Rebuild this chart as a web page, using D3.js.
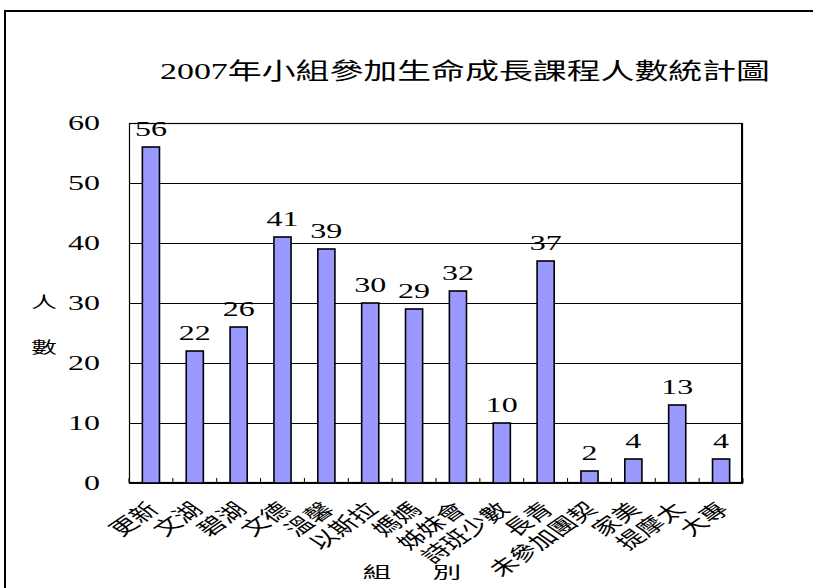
<!DOCTYPE html>
<html>
<head>
<meta charset="utf-8">
<script src="https://cdn.jsdelivr.net/npm/d3@7"></script>
<style>
  body { margin: 0; background: #fff; }
  svg { display: block; }
</style>
</head>
<body>
<svg id="chart" width="813" height="588"></svg>
<script>
// data
const categories = ["更新", "文湖", "碧湖", "文德", "溫馨", "以斯拉", "媽媽", "姊妹會",
  "詩班少數", "長青", "未參加團契", "家美", "提摩太", "大專"];
const values = [56, 22, 26, 41, 39, 30, 29, 32, 10, 37, 2, 4, 13, 4];
const yTicks = [0, 10, 20, 30, 40, 50, 60];
const title = "2007年小組參加生命成長課程人數統計圖";
const yTitle = ["人", "數"];
const xTitle = ["組", "別"];

const svg = d3.select("#chart");
const plotLeft = 129, plotRight = 743, plotTop = 123, plotBottom = 483;
const numFont = "'Liberation Serif', 'Times New Roman', serif";
const cjkFont = "'Noto Sans CJK TC', 'Noto Sans CJK SC', sans-serif";
const stretch = 1.6; // the picture is stretched sideways

// outer frame (runs off the right and bottom of the picture)
svg.append("rect")
  .attr("x", 5).attr("y", 11)
  .attr("width", 900).attr("height", 700)
  .attr("fill", "none").attr("stroke", "#000").attr("stroke-width", 2);

// title
svg.append("text")
  .attr("x", 160).attr("y", 79)
  .attr("textLength", 610).attr("lengthAdjust", "spacingAndGlyphs")
  .attr("font-family", numFont + ", " + cjkFont)
  .attr("font-size", 23)
  .text(title);

//scales
const x = d3.scaleBand()
  .domain(categories)
  .range([plotLeft, plotRight])
  .paddingInner(0.61)
  .paddingOuter(0.305);
const y = d3.scaleLinear().domain([0, 60]).range([plotBottom, plotTop]);

// gridlines
svg.append("g")
  .attr("transform", `translate(${plotLeft},0)`)
  .call(d3.axisLeft(y).tickValues(yTicks).tickSize(-(plotRight - plotLeft)).tickFormat(""))
  .call(g => g.select(".domain").remove())
  .selectAll("line").attr("stroke", "#000").attr("stroke-width", 1);

// plot frame
svg.append("rect")
  .attr("x", plotLeft + 0.5).attr("y", plotTop + 0.5)
  .attr("width", plotRight - plotLeft - 1).attr("height", plotBottom - plotTop - 1)
  .attr("fill", "none").attr("stroke", "#000").attr("stroke-width", 1.2);
svg.append("line")
  .attr("x1", plotRight - 1).attr("x2", plotRight - 1)
  .attr("y1", plotTop).attr("y2", plotBottom)
  .attr("stroke", "#000").attr("stroke-width", 2);

// y tick labels
svg.append("g")
  .attr("transform", `translate(100,0)`)
  .call(d3.axisLeft(y).tickValues(yTicks).tickSize(0).tickPadding(0))
  .call(g => g.select(".domain").remove())
  .selectAll("text")
  .attr("x", 0).attr("dy", null)
  .attr("dominant-baseline", "central")
  .attr("transform", `scale(${stretch},1)`)
  .attr("font-family", numFont)
  .attr("font-size", 20)
  .attr("fill", "#000");

// x axis ticks at band edges, pointing inward
const edges = d3.range(categories.length + 1).map(i => plotLeft + i * x.step());
svg.append("g").selectAll("line")
  .data(edges)
  .enter()
  .append("line")
  .attr("x1", d => d).attr("x2", d => d)
  .attr("y1", plotBottom).attr("y2", plotBottom - 5)
  .attr("stroke", "#000").attr("stroke-width", 1);

// bottom axis line
svg.append("line")
  .attr("x1", plotLeft).attr("x2", plotRight)
  .attr("y1", plotBottom).attr("y2", plotBottom)
  .attr("stroke", "#000").attr("stroke-width", 2);

// bars
svg.append("g").selectAll("rect")
  .data(values)
  .enter()
  .append("rect")
  .attr("x", (d, i) => x(categories[i]))
  .attr("y", d => y(d))
  .attr("width", x.bandwidth())
  .attr("height", d => plotBottom - y(d))
  .attr("fill", "#9999FF")
  .attr("stroke", "#000")
  .attr("stroke-width", 1.6);

// value labels
svg.append("g").selectAll("text")
  .data(values)
  .enter()
  .append("text")
  .attr("transform", (d, i) =>
    `translate(${x(categories[i]) + x.bandwidth() / 2},${y(d) - 11}) scale(${stretch},1)`)
  .attr("text-anchor", "middle")
  .attr("font-family", numFont)
  .attr("font-size", 20)
  .text(d => d);

// category labels, slanted
svg.append("g").selectAll("text")
  .data(categories)
  .enter()
  .append("text")
  .attr("transform", d =>
    `translate(${x(d) + x.bandwidth() / 2 + 1},505) scale(1.45,1) rotate(-45)`)
  .attr("text-anchor", "end")
  .attr("dominant-baseline", "central")
  .attr("font-family", cjkFont)
  .attr("font-size", 19)
  .text(d => d);

// y title
svg.append("g").selectAll("text")
  .data(yTitle)
  .enter()
  .append("text")
  .attr("transform", (d, i) => `translate(44,${301 + i * 45}) scale(1.6,1)`)
  .attr("text-anchor", "middle")
  .attr("dominant-baseline", "central")
  .attr("font-family", cjkFont)
  .attr("font-size", 16)
  .text(d => d);

// x title
svg.append("g").selectAll("text")
  .data(xTitle)
  .enter()
  .append("text")
  .attr("transform", (d, i) => `translate(${377 + i * 70},571) scale(1.8,1)`)
  .attr("text-anchor", "middle")
  .attr("dominant-baseline", "central")
  .attr("font-family", cjkFont)
  .attr("font-size", 16)
  .text(d => d);
</script>
</body>
</html>
